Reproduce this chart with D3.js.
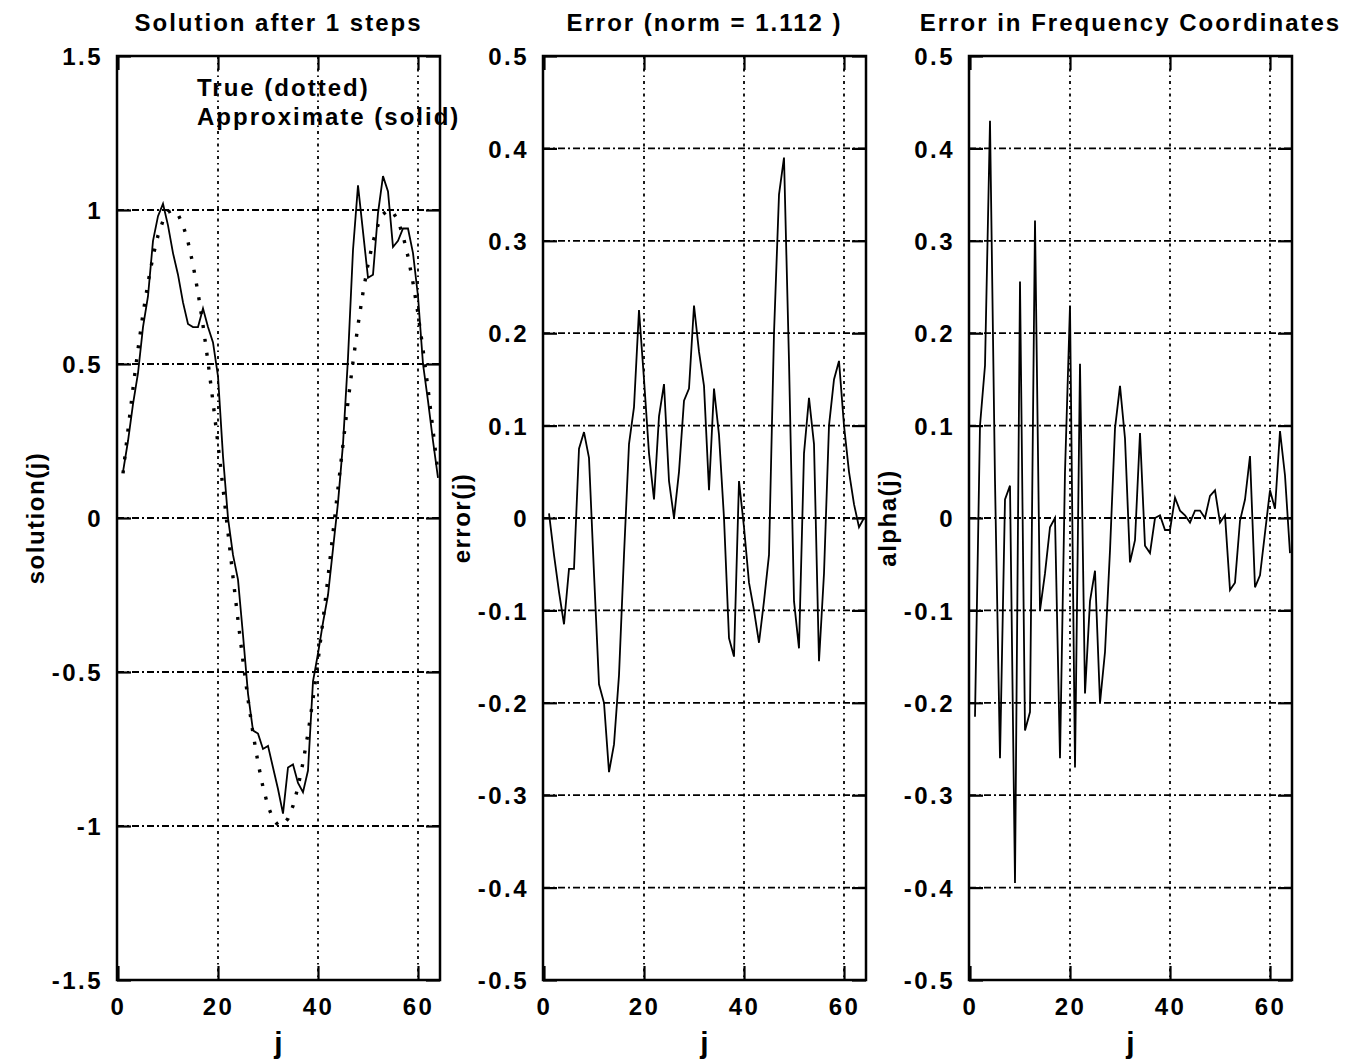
<!DOCTYPE html>
<html>
<head>
<meta charset="utf-8">
<script src="https://cdn.jsdelivr.net/npm/d3@7"></script>
<style>
  body { margin: 0; background: #fff; }
  svg text { font-family: "Liberation Sans", Arial, sans-serif; font-weight: bold; fill: #000; }
  .tick text { font-size: 24px; letter-spacing: 2.5px; }
  .title { font-size: 24px; letter-spacing: 2px; }
  .legend { font-size: 24px; letter-spacing: 2px; }
  .ylab { font-size: 24px; letter-spacing: 1.5px; }
  .xlab { font-size: 30px; }
</style>
</head>
<body>
<svg width="1357" height="1064"></svg>
<script>

// grid index j = 1..64
const jIndex = d3.range(1, 65)

// true solution (dotted)
const trueSol = [0.145, 0.286, 0.421, 0.548, 0.663, 0.764, 0.849, 0.917, 0.965, 0.993,
  1.0, 0.986, 0.951, 0.897, 0.823, 0.732, 0.626, 0.507, 0.377, 0.239,
  0.097, -0.048, -0.192, -0.332, -0.465, -0.588, -0.699, -0.794, -0.874, -0.935,
  -0.976, -0.997, -0.997, -0.976, -0.935, -0.874, -0.794, -0.699, -0.588, -0.465,
  -0.332, -0.192, -0.048, 0.097, 0.239, 0.377, 0.507, 0.626, 0.732, 0.823,
  0.897, 0.951, 0.986, 1.0, 0.993, 0.965, 0.917, 0.849, 0.764, 0.663,
  0.548, 0.421, 0.286, 0.145]

// approximate solution (solid)
const approxSol = [0.15, 0.25, 0.37, 0.47, 0.62, 0.72, 0.90, 0.98, 1.02, 0.95,
  0.86, 0.79, 0.70, 0.63, 0.62, 0.62, 0.68, 0.62, 0.57, 0.46,
  0.20, 0.0, -0.12, -0.20, -0.38, -0.57, -0.69, -0.70, -0.75, -0.74,
  -0.81, -0.88, -0.96, -0.81, -0.80, -0.86, -0.89, -0.82, -0.53, -0.44,
  -0.34, -0.25, -0.10, 0.05, 0.24, 0.52, 0.87, 1.08, 0.93, 0.78,
  0.79, 0.99, 1.11, 1.06, 0.88, 0.90, 0.94, 0.94, 0.86, 0.72,
  0.50, 0.38, 0.25, 0.13]

// error
const errorVals = [0.005, -0.04, -0.08, -0.115, -0.055, -0.055, 0.075, 0.093, 0.065, -0.06,
  -0.18, -0.20, -0.275, -0.245, -0.17, -0.04, 0.08, 0.12, 0.225, 0.15,
  0.07, 0.02, 0.11, 0.145, 0.04, 0.0, 0.05, 0.127, 0.14, 0.23,
  0.18, 0.143, 0.03, 0.14, 0.09, 0.0, -0.13, -0.15, 0.04, -0.01,
  -0.07, -0.10, -0.135, -0.09, -0.04, 0.2, 0.35, 0.39, 0.17, -0.09,
  -0.141, 0.07, 0.13, 0.08, -0.155, -0.06, 0.10, 0.15, 0.17, 0.10,
  0.05, 0.015, -0.01, 0.0]

// error in frequency coordinates
const alphaVals = [-0.215, 0.10, 0.165, 0.43, 0.04, -0.26, 0.02, 0.035, -0.395, 0.256,
  -0.23, -0.21, 0.322, -0.10, -0.06, -0.01, 0.0, -0.26, 0.05, 0.23,
  -0.27, 0.167, -0.19, -0.09, -0.057, -0.20, -0.145, -0.035, 0.097, 0.143,
  0.086, -0.048, -0.024, 0.092, -0.03, -0.038, 0.0, 0.003, -0.013, -0.013,
  0.022, 0.008, 0.003, -0.005, 0.008, 0.008, 0.0, 0.024, 0.03, -0.005,
  0.003, -0.078, -0.07, -0.003, 0.02, 0.067, -0.075, -0.062, -0.016, 0.03,
  0.01, 0.094, 0.046, -0.038]

const xTicks = [0, 20, 40, 60]
const solTicks = [-1.5, -1, -0.5, 0, 0.5, 1, 1.5]
const errTicks = [-0.5, -0.4, -0.3, -0.2, -0.1, 0, 0.1, 0.2, 0.3, 0.4, 0.5]

const svg = d3.select('svg')
const plotTop = 56
const plotBottom = 980
const panelWidth = 323

const panels = [
  { left: 117, title: 'Solution after 1 steps', ylabel: 'solution(j)', domain: [-1.5, 1.5], ticks: solTicks,
    lines: [{ values: approxSol, dash: null }, { values: trueSol, dash: '3,11' }] },
  { left: 543, title: 'Error (norm = 1.112 )', ylabel: 'error(j)', domain: [-0.5, 0.5], ticks: errTicks,
    lines: [{ values: errorVals, dash: null }] },
  { left: 969, title: 'Error in Frequency Coordinates', ylabel: 'alpha(j)', domain: [-0.5, 0.5], ticks: errTicks,
    lines: [{ values: alphaVals, dash: null }] }
]

const drawPanel = p => {
  const right = p.left + panelWidth
  const xScale = d3.scaleLinear().domain([-0.2, 64.4]).range([p.left, right])
  const yScale = d3.scaleLinear().domain(p.domain).range([plotBottom, plotTop])

  const g = svg.append('g')

  // grid
  g.selectAll('.hgrid')
    .data(p.ticks.slice(1, -1))
    .enter().append('line')
    .attr('x1', p.left).attr('x2', right)
    .attr('y1', d => yScale(d)).attr('y2', d => yScale(d))
    .attr('stroke', '#000').attr('stroke-width', 1.8)
    .attr('stroke-dasharray', '7,3,2,3')

  g.selectAll('.vgrid')
    .data(xTicks.filter(t => t > 0))
    .enter().append('line')
    .attr('x1', d => xScale(d)).attr('x2', d => xScale(d))
    .attr('y1', plotTop).attr('y2', plotBottom)
    .attr('stroke', '#000').attr('stroke-width', 1.8)
    .attr('stroke-dasharray', '3,4,1.5,4')

  // axes, ticks pointing inward
  const leftAxis = g.append('g')
    .attr('transform', `translate(${p.left},0)`)
    .call(d3.axisLeft(yScale).tickValues(p.ticks).tickSize(-14).tickPadding(14).tickFormat(d => String(d)))
  const rightAxis = g.append('g')
    .attr('transform', `translate(${right},0)`)
    .call(d3.axisRight(yScale).tickValues(p.ticks).tickSize(-14).tickFormat(''))
  const bottomAxis = g.append('g')
    .attr('transform', `translate(0,${plotBottom})`)
    .call(d3.axisBottom(xScale).tickValues(xTicks).tickSize(-14).tickPadding(18).tickFormat(d => String(d)))
  const topAxis = g.append('g')
    .attr('transform', `translate(0,${plotTop})`)
    .call(d3.axisTop(xScale).tickValues(xTicks).tickSize(-14).tickFormat(''))

  ;[leftAxis, rightAxis, bottomAxis, topAxis].forEach(a => {
    a.select('.domain').remove()
    a.selectAll('.tick line').attr('stroke', '#000').attr('stroke-width', 2.2)
  })
  leftAxis.selectAll('.tick text').attr('dy', '0.36em')
  bottomAxis.selectAll('.tick text').attr('dy', '0.71em')

  // data
  const line = d3.line()
    .x((d, i) => xScale(jIndex[i]))
    .y(d => yScale(d))

  p.lines.forEach(s => {
    g.append('path')
      .datum(s.values)
      .attr('d', line)
      .attr('fill', 'none')
      .attr('stroke', '#000')
      .attr('stroke-width', s.dash ? 3.4 : 1.8)
      .attr('stroke-dasharray', s.dash)
  })

  // frame
  g.append('rect')
    .attr('x', p.left).attr('y', plotTop)
    .attr('width', panelWidth).attr('height', plotBottom - plotTop)
    .attr('fill', 'none').attr('stroke', '#000').attr('stroke-width', 2.5)

  // labels
  g.append('text')
    .attr('class', 'title')
    .attr('x', (p.left + right) / 2).attr('y', 31)
    .attr('text-anchor', 'middle')
    .text(p.title)

  g.append('text')
    .attr('class', 'xlab')
    .attr('x', (p.left + right) / 2).attr('y', 1053)
    .attr('text-anchor', 'middle')
    .text('j')

  g.append('text')
    .attr('class', 'ylab')
    .attr('transform', `translate(${p.left - 73},${(plotTop + plotBottom) / 2}) rotate(-90)`)
    .attr('text-anchor', 'middle')
    .text(p.ylabel)
}

panels.forEach(drawPanel)

// legend of the first panel
svg.append('text').attr('class', 'legend').attr('x', 197).attr('y', 96).text('True (dotted)')
svg.append('text').attr('class', 'legend').attr('x', 197).attr('y', 125).text('Approximate (solid)')

</script>
</body>
</html>
